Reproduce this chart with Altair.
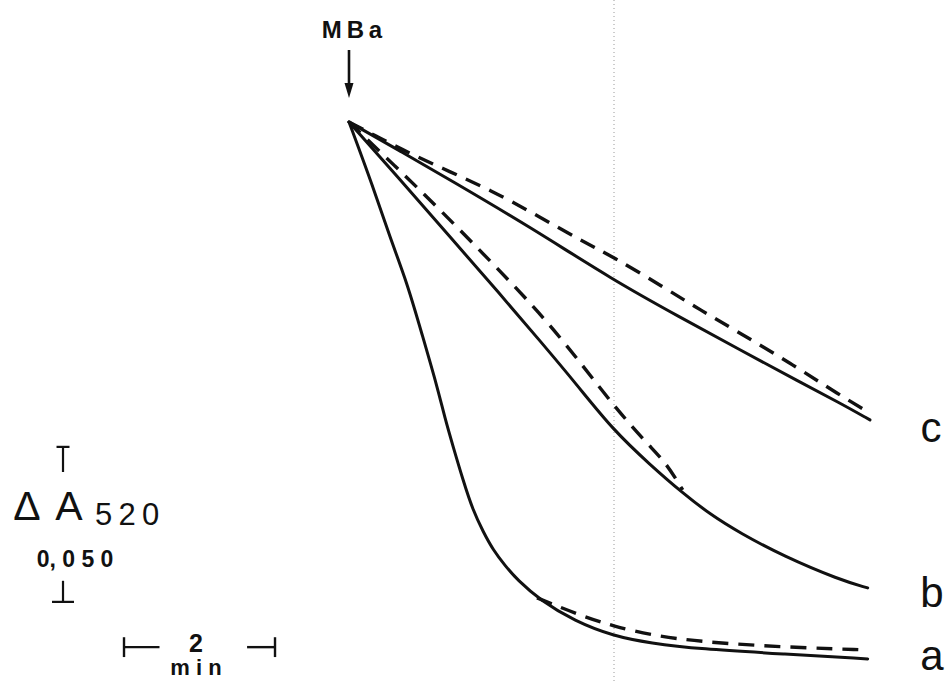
import altair as alt
import pandas as pd

INK = "#111111"
FONT = "Liberation Sans"
W, H = 946, 682

# Absorbance change at 520 nm after MBa addition (t = 0, in minutes)
# Trace a
a_t = [0.00, 0.32, 0.54, 0.77, 0.97, 1.17, 1.27, 1.38, 1.51, 1.64, 1.78,
       1.91, 2.07, 2.23, 2.53, 2.99, 3.50, 3.99, 4.65, 5.75, 6.87]
a_dA = [0.0, -0.0210, -0.0371, -0.0519, -0.0687, -0.0855, -0.0955, -0.1048,
        -0.1155, -0.1252, -0.1323, -0.1381, -0.1432, -0.1477, -0.1542,
        -0.1610, -0.1658, -0.1681, -0.1700, -0.1716, -0.1732]
a2_t = [2.49, 2.75, 3.13, 3.50, 3.99, 4.65, 5.75, 6.87]
a2_dA = [-0.1535, -0.1561, -0.1597, -0.1626, -0.1655, -0.1677, -0.1694, -0.1703]

# Trace b
b_t = [0.00, 0.68, 1.34, 2.00, 2.53, 3.02, 3.50, 3.99, 4.42, 4.78, 5.18,
       5.75, 6.50, 6.87]
b_dA = [0.0, -0.0187, -0.0371, -0.0555, -0.0706, -0.0848, -0.0994, -0.1106,
        -0.1197, -0.1265, -0.1326, -0.1400, -0.1477, -0.1503]
b2_t = [0.00, 0.61, 1.21, 1.87, 2.53, 3.06, 3.55, 3.99, 4.20, 4.42]
b2_dA = [0.0, -0.0142, -0.0284, -0.0448, -0.0616, -0.0774, -0.0929, -0.1048,
         -0.1100, -0.1187]

# Trace c
c_t = [0.00, 0.68, 1.34, 2.40, 3.50, 4.38, 5.18, 5.97, 6.50, 6.90]
c_dA = [0.0, -0.0094, -0.0187, -0.0339, -0.0510, -0.0629, -0.0735, -0.0839,
        -0.0906, -0.0961]
c2_t = [0.00, 0.41, 0.77, 1.34, 1.87, 2.46, 3.06, 3.50, 4.16, 4.65, 5.18,
        5.84, 6.50, 6.90]
c2_dA = [0.0, -0.0052, -0.0097, -0.0161, -0.0219, -0.0297, -0.0381, -0.0435,
         -0.0532, -0.0606, -0.0681, -0.0777, -0.0881, -0.0939]

# Calibration bars
TIME_BAR_MIN = 2.0
ABS_BAR = 0.050


def frame(name, ts, vals):
    return pd.DataFrame({"trace": name, "t": ts, "dA": vals})


solid = pd.concat([frame("a", a_t, a_dA), frame("b", b_t, b_dA),
                   frame("c", c_t, c_dA)], ignore_index=True)
dashed = pd.concat([frame("a", a2_t, a2_dA), frame("b", b2_t, b2_dA),
                    frame("c", c2_t, c2_dA)], ignore_index=True)

# Scale: 75.5 px per minute, 3100 px per absorbance unit
PX_MIN, PX_ABS = 75.5, 3100.0
X0, Y0 = 349.0, 122.0
XDOM = [-X0 / PX_MIN, (W - X0) / PX_MIN]
YDOM = [-(H - Y0) / PX_ABS, Y0 / PX_ABS]
xs = alt.Scale(domain=XDOM, nice=False, zero=False)
ys = alt.Scale(domain=YDOM, nice=False, zero=False)


def X(field="t"):
    return alt.X(f"{field}:Q", scale=xs, axis=None)


def Y(field="dA"):
    return alt.Y(f"{field}:Q", scale=ys, axis=None)


solid_lines = alt.Chart(solid).mark_line(
    color=INK, strokeWidth=3, interpolate="basis", strokeCap="round"
).encode(x=X(), y=Y(), detail="trace:N")

dashed_lines = alt.Chart(dashed).mark_line(
    color=INK, strokeWidth=3.4, interpolate="basis", strokeDash=[16, 10]
).encode(x=X(), y=Y(), detail="trace:N")

# faint fold line
fold = alt.Chart(pd.DataFrame({"t": [3.51]})).mark_rule(
    color="#9a9a9a", strokeWidth=1, strokeDash=[1, 3]
).encode(x=X(), y=alt.value(0), y2=alt.value(H))

# MBa addition arrow at t = 0
one = pd.DataFrame({"t": [0.0]})
shaft = alt.Chart(one).mark_rule(color=INK, strokeWidth=2.6).encode(
    x=X(), y=alt.value(50), y2=alt.value(88))
head = alt.Chart(one).mark_point(
    shape="M-0.6,-1L0.6,-1L0,1Z", filled=True, size=225, color=INK, opacity=1
).encode(x=X(), y=alt.value(90.5))

# time calibration bar
tb0 = -2.98
tb_level = -0.1694
tick_h = 0.0032
time_h = pd.DataFrame({"t": [tb0, tb0 + 1.63], "t2": [tb0 + 0.47, tb0 + TIME_BAR_MIN],
                       "dA": [tb_level, tb_level]})
time_v = pd.DataFrame({"t": [tb0, tb0 + TIME_BAR_MIN],
                       "dA": [tb_level + tick_h, tb_level + tick_h],
                       "dA2": [tb_level - tick_h, tb_level - tick_h]})
time_bar_h = alt.Chart(time_h).mark_rule(color=INK, strokeWidth=2.4).encode(
    x=X(), x2="t2:Q", y=Y())
time_bar_v = alt.Chart(time_v).mark_rule(color=INK, strokeWidth=2.4).encode(
    x=X(), y=Y(), y2="dA2:Q")

# absorbance calibration bar
ab_t = -3.788
ab_top = -0.1048
ab_bot = ab_top - ABS_BAR
abs_v = pd.DataFrame({"t": [ab_t, ab_t], "dA": [ab_top, ab_bot + 0.0068],
                      "dA2": [ab_top - 0.0081, ab_bot]})
abs_h = pd.DataFrame({"t": [ab_t - 0.086, ab_t - 0.146],
                      "t2": [ab_t + 0.086, ab_t + 0.146],
                      "dA": [ab_top, ab_bot]})
abs_bar_v = alt.Chart(abs_v).mark_rule(color=INK, strokeWidth=2.2).encode(
    x=X(), y=Y(), y2="dA2:Q")
abs_bar_h = alt.Chart(abs_h).mark_rule(color=INK, strokeWidth=2.2).encode(
    x=X(), x2="t2:Q", y=Y())

anchor = pd.DataFrame({"k": [0]})


def label(text, x, y, size, weight="normal", align="center"):
    return alt.Chart(anchor).mark_text(
        text=text, font=FONT, fontSize=size, fontWeight=weight, align=align,
        baseline="alphabetic", color=INK
    ).encode(x=alt.value(x), y=alt.value(y))


texts = [
    label("M\u2009B\u2009a", 352, 38, 24, "bold"),
    label("\u0394", 27, 520, 41),
    label("A", 69, 520, 41),
    label("5\u20092\u20090", 95, 525, 31, align="left"),
    label("0, 0 5 0", 75, 567, 23, "bold"),
    label("2", 196, 652, 25, "bold"),
    label("m i n", 196, 675, 22, "bold"),
    label("c", 931, 442, 42),
    label("b", 932, 607, 42),
    label("a", 932, 670, 42),
]

chart = alt.layer(
    fold, solid_lines, dashed_lines, shaft, head,
    time_bar_h, time_bar_v, abs_bar_v, abs_bar_h, *texts
).properties(
    width=W, height=H, padding=0,
    autosize=alt.AutoSizeParams(type="none"),
    background="white",
).configure_view(strokeWidth=0)

chart.save("out.html", embed_options={"renderer": "svg", "actions": False})
